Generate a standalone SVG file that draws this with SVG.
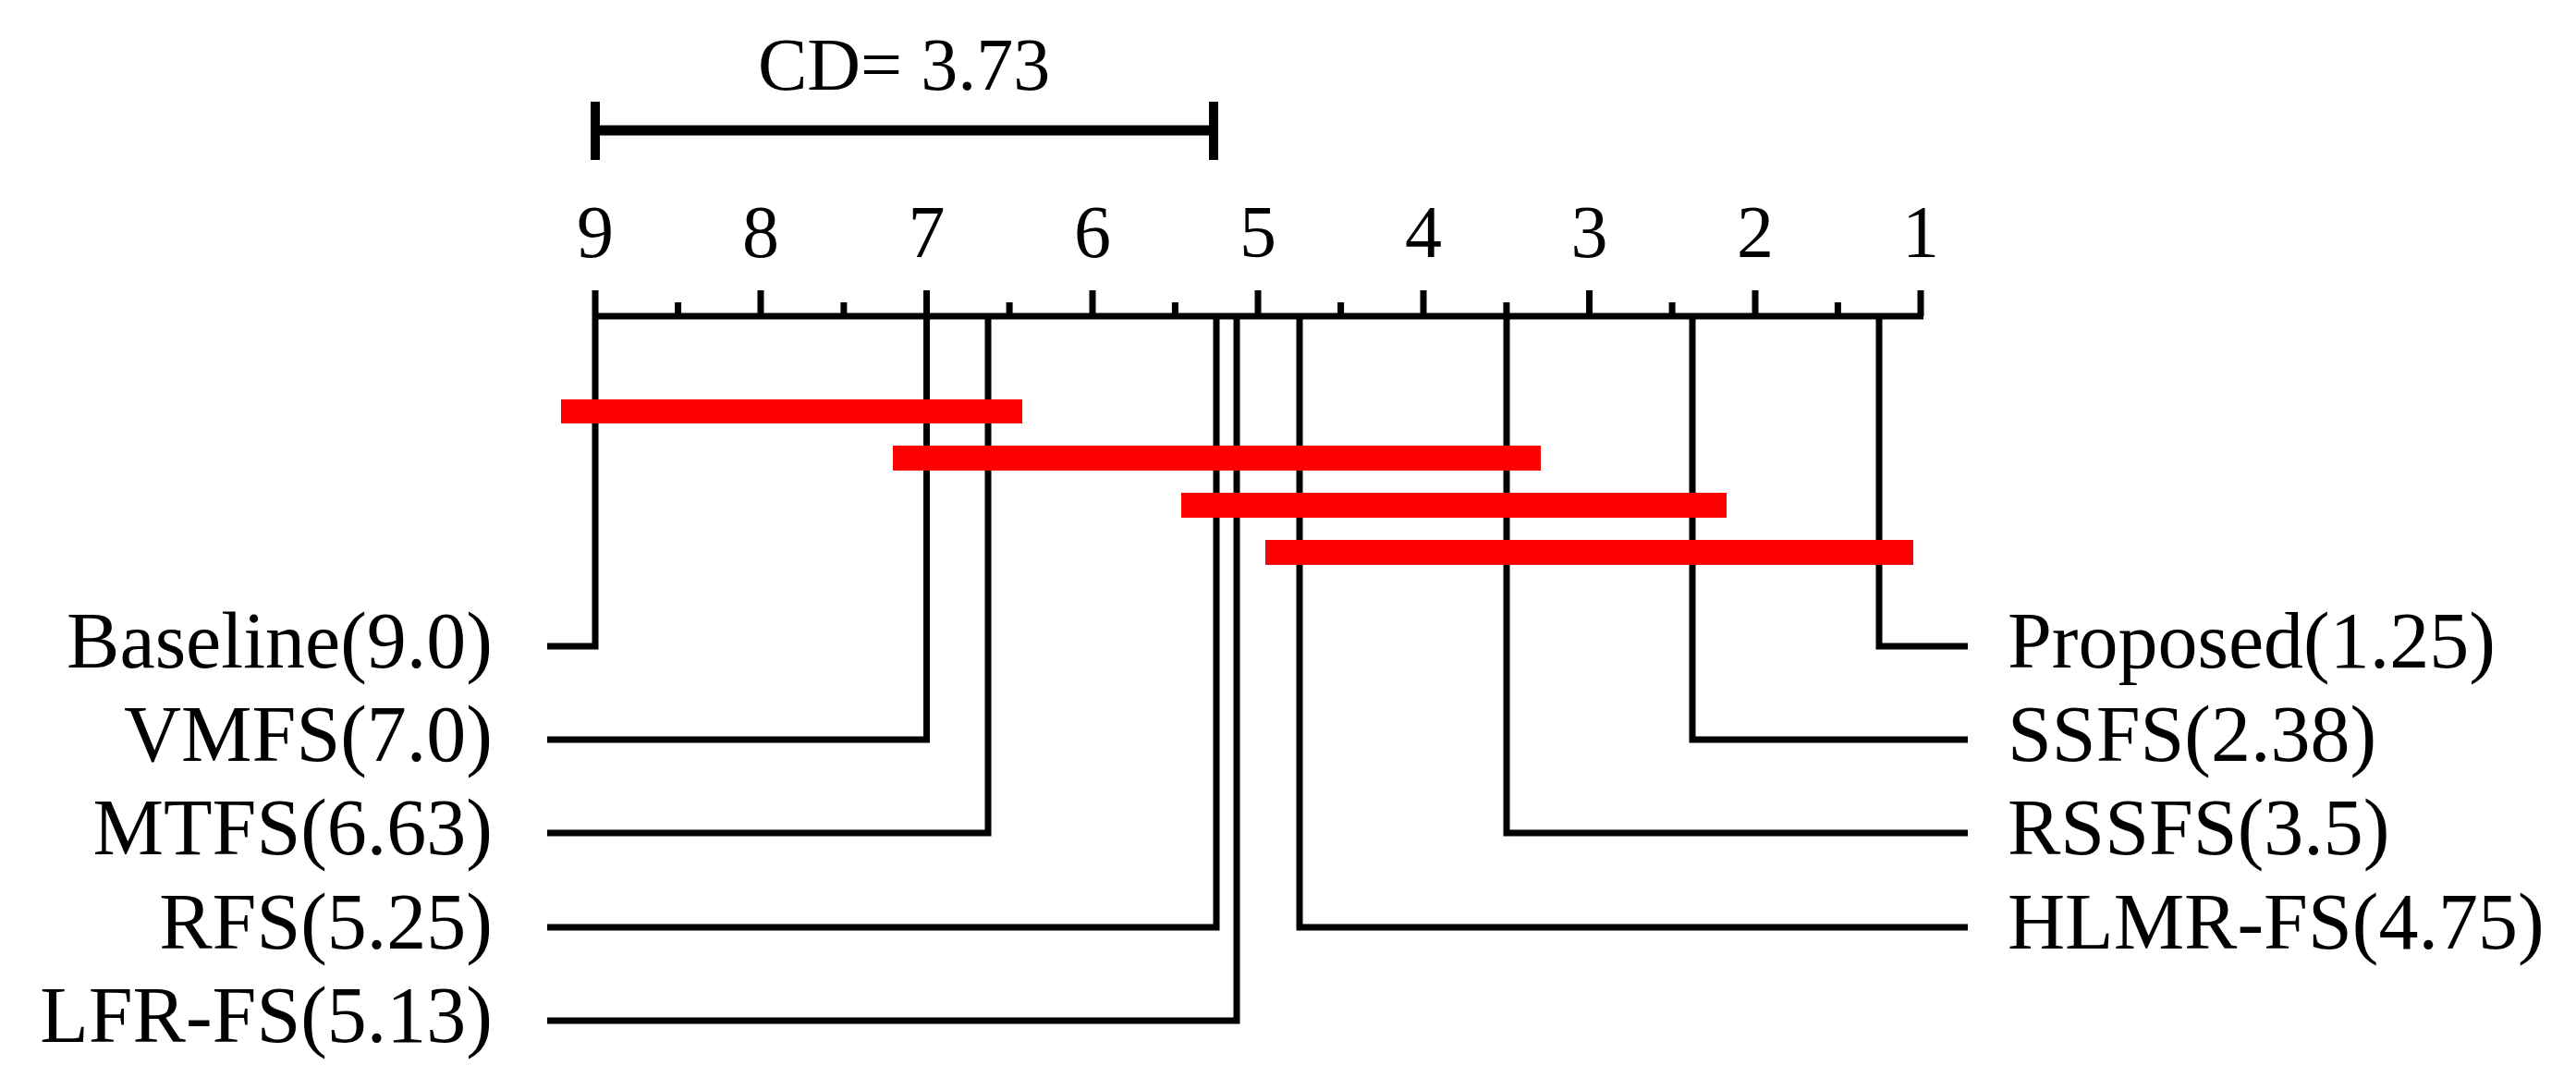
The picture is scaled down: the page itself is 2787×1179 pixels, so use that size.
<svg xmlns="http://www.w3.org/2000/svg" width="2787" height="1179" viewBox="0 0 2787 1179">
<style>
text{font-family:"Liberation Serif","DejaVu Serif",serif;fill:#000}
.num{font-size:80px;text-anchor:middle}
.lab{font-size:86px}
.l{fill:none;stroke:#000;stroke-width:7}
.red{fill:#ff0000}
</style>
<rect width="2787" height="1179" fill="#fff"/>
<g id="cd">
<text x="978" y="97" class="num">CD= 3.73</text>
<line x1="644" y1="141" x2="1313" y2="141" stroke="#000" stroke-width="11"/>
<line x1="644" y1="110" x2="644" y2="173" stroke="#000" stroke-width="10"/>
<line x1="1313" y1="110" x2="1313" y2="173" stroke="#000" stroke-width="10"/>
</g>
<g id="axis">
<line x1="641" y1="342" x2="2081" y2="342" stroke="#000" stroke-width="7"/>
<g class="l">
<path d="M644 314V342M823 314V342M1002.5 314V342M1182 314V342M1361 314V342M1540 314V342M1719.5 314V342M1899 314V342M2078 314V342"/>
<path d="M733.6 327V342M912.9 327V342M1092.1 327V342M1271.4 327V342M1450.6 327V342M1629.9 327V342M1809.1 327V342M1988.4 327V342"/>
</g>
<text class="num" x="644" y="278">9</text>
<text class="num" x="823" y="278">8</text>
<text class="num" x="1002.5" y="278">7</text>
<text class="num" x="1182" y="278">6</text>
<text class="num" x="1361" y="278">5</text>
<text class="num" x="1540" y="278">4</text>
<text class="num" x="1719.5" y="278">3</text>
<text class="num" x="1899" y="278">2</text>
<text class="num" x="2078" y="278">1</text>
</g>
<g id="connectors" class="l">
<path d="M644 342V699H592"/>
<path d="M1002.5 342V800H592"/>
<path d="M1069 342V901H592"/>
<path d="M1316 342V1003H592"/>
<path d="M1338 342V1104H592"/>
<path d="M2033 342V699H2129"/>
<path d="M1831 342V800H2129"/>
<path d="M1630 342V901H2129"/>
<path d="M1406 342V1003H2129"/>
</g>
<g id="cliques">
<rect class="red" x="607" y="432" width="499" height="26"/>
<rect class="red" x="966" y="482" width="701" height="27"/>
<rect class="red" x="1278" y="533" width="590" height="27"/>
<rect class="red" x="1369" y="584" width="701" height="27"/>
</g>
<g id="labels-left" class="lab" text-anchor="end">
<text x="533" y="722" text-anchor="end">Baseline(9.0)</text>
<text x="533" y="823" text-anchor="end">VMFS(7.0)</text>
<text x="533" y="924" text-anchor="end">MTFS(6.63)</text>
<text x="533" y="1026" text-anchor="end">RFS(5.25)</text>
<text x="533" y="1127" text-anchor="end">LFR-FS(5.13)</text>
</g>
<g id="labels-right" class="lab">
<text x="2172" y="722">Proposed(1.25)</text>
<text x="2172" y="823">SSFS(2.38)</text>
<text x="2172" y="924">RSSFS(3.5)</text>
<text x="2172" y="1026">HLMR-FS(4.75)</text>
</g>
</svg>
